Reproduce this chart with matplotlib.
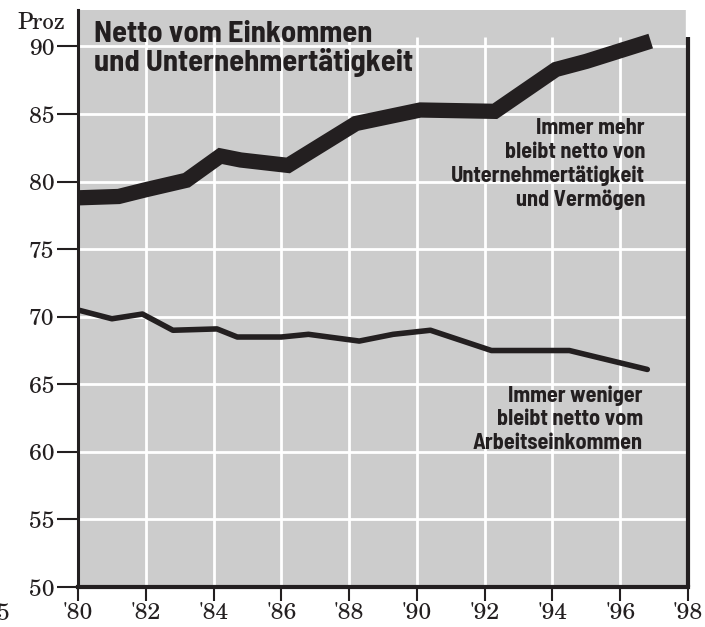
import matplotlib
matplotlib.use("Agg")
import matplotlib.pyplot as plt

# ---- data ----
upper_years = [1980.0, 1981.2, 1982.0, 1983.2, 1984.2, 1984.8, 1986.2, 1988.2, 1990.1, 1992.3, 1994.1, 1995.0, 1996.9]
upper_vals = [78.8, 78.9, 79.4, 80.1, 81.9, 81.6, 81.2, 84.3, 85.3, 85.2, 88.3, 88.9, 90.4]

lower_years = [1980.0, 1981.0, 1981.9, 1982.8, 1984.1, 1984.7, 1986.0, 1986.8, 1988.3, 1989.3, 1990.4, 1992.2, 1994.5, 1996.8]
lower_vals = [70.5, 69.85, 70.2, 69.0, 69.1, 68.5, 68.5, 68.7, 68.2, 68.7, 69.0, 67.5, 67.5, 66.1]

x_ticks = list(range(1980, 1999, 2))
x_labels = ["'80", "'82", "'84", "'86", "'88", "'90", "'92", "'94", "'96", "'98"]
y_ticks = [50, 55, 60, 65, 70, 75, 80, 85, 90]

title = "Netto vom Einkommen\nund Unternehmertätigkeit"
note_upper = "Immer mehr\nbleibt netto von\nUnternehmertätigkeit\nund Vermögen"
note_lower = "Immer weniger\nbleibt netto vom\nArbeitseinkommen"

sans = ["Barlow Semi Condensed", "DejaVu Sans"]
serif = ["TeX Gyre Schola", "DejaVu Serif"]

INK = "#231f20"
GRAY = "#cccccc"

fig = plt.figure(figsize=(7.05, 6.27), dpi=100)
ax = fig.add_axes([78 / 705, 1 - 587 / 627, (688 - 78) / 705, (587 - 10) / 627])
ax.set_facecolor(GRAY)
ax.set_xlim(1980, 1998)
ax.set_ylim(50, 92.7)

# grid
ax.hlines([55, 60, 65, 70, 75, 80, 85, 90], 1980, 1998, colors="white", lw=2, zorder=1)
ax.vlines(x_ticks[1:-1], 50, 90.7, colors="white", lw=2, zorder=1)

# lines
ax.plot(upper_years, upper_vals, color=INK, lw=11, solid_capstyle="butt", solid_joinstyle="miter", zorder=3)
ax.plot(lower_years, lower_vals, color=INK, lw=4, solid_capstyle="round", zorder=3)

# spines
for s in ["top", "right"]:
    ax.spines[s].set_visible(False)
ax.spines["left"].set_linewidth(2.2)
ax.spines["left"].set_color(INK)
ax.spines["bottom"].set_linewidth(3)
ax.spines["bottom"].set_color(INK)
ax.plot([1998, 1998], [50, 90.7], color=INK, lw=3, clip_on=False, zorder=4, solid_capstyle="butt")
ax.fill_between([1997.95, 1998.2], 90.7, 92.8, color="white", zorder=2, clip_on=False)

ax.set_xticks(x_ticks)
ax.set_xticklabels(x_labels, fontfamily=serif, fontsize=16.5, color=INK)
ax.set_yticks(y_ticks)
ax.set_yticklabels([str(v) for v in y_ticks], fontfamily=serif, fontsize=16.5, color=INK)
ax.tick_params(axis="y", length=15, width=1.5, color=INK, pad=2, direction="out")
ax.tick_params(axis="x", length=10, width=1.5, color=INK, pad=1, direction="out")

fig.text(17 / 705, 1 - 29 / 627, "Proz", fontfamily=serif, fontsize=16.5, color=INK, va="baseline")
fig.text(-3 / 705, 1 - 620 / 627, "5", fontfamily=serif, fontsize=16.5, color=INK, va="baseline", ha="left")

fig.text(94 / 705, 1 - 21 / 627, title, fontfamily=sans, fontweight="bold", fontsize=22,
         color=INK, va="top", ha="left", linespacing=0.98)
fig.text(645 / 705, 1 - 118 / 627, note_upper, fontfamily=sans, fontweight="bold", fontsize=16,
         color=INK, va="top", ha="right", linespacing=1.22, multialignment="right")
fig.text(643 / 705, 1 - 385 / 627, note_lower, fontfamily=sans, fontweight="bold", fontsize=16,
         color=INK, va="top", ha="right", linespacing=1.22, multialignment="right")

fig.savefig("out.png", dpi=100, facecolor="white")
